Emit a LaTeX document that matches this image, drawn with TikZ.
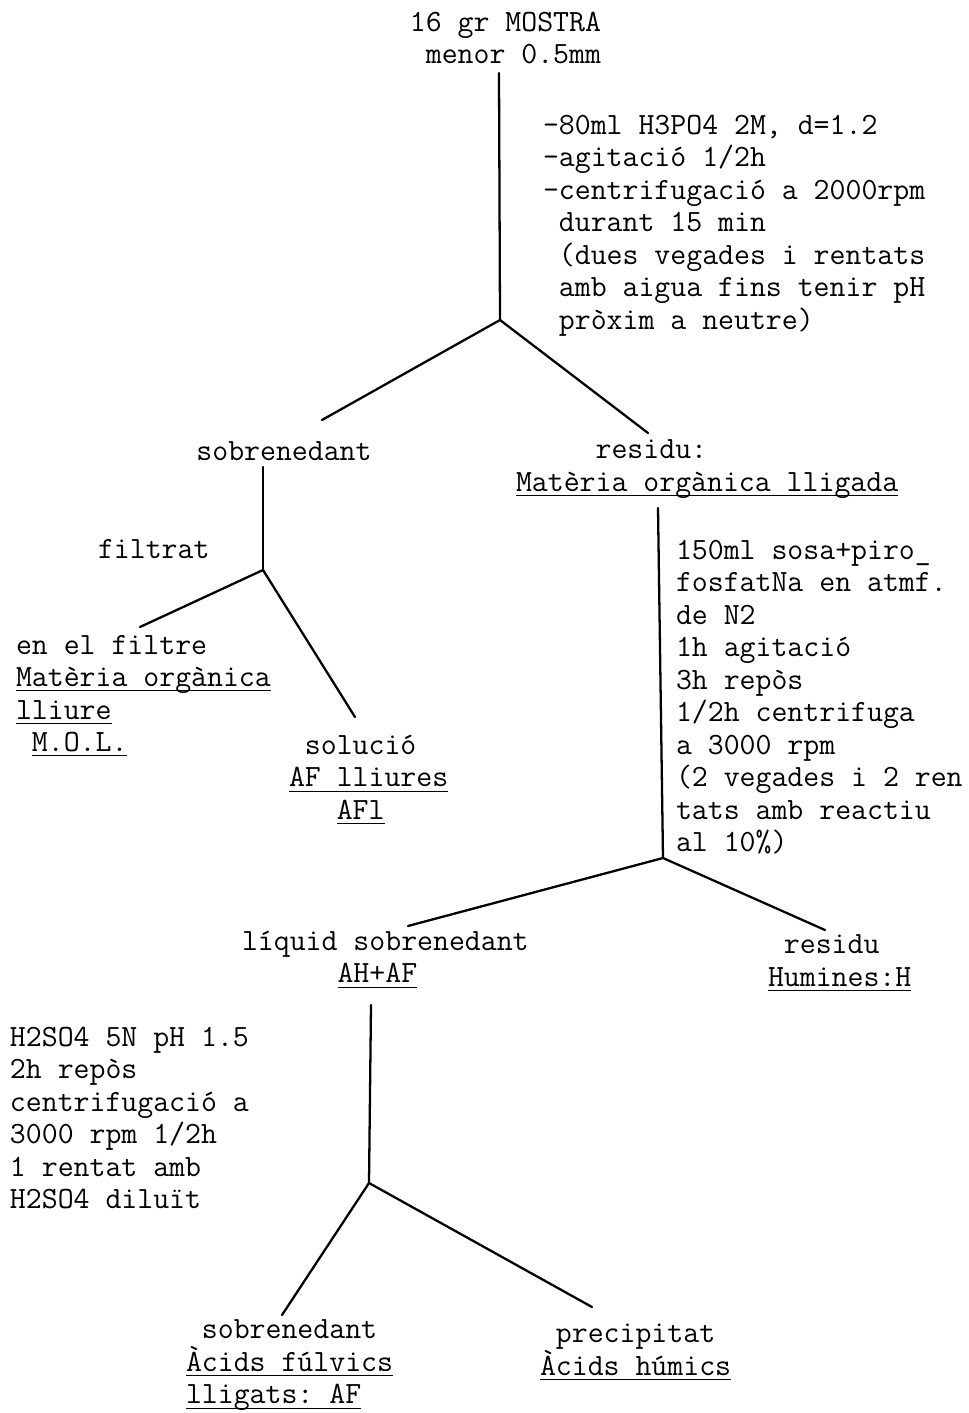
\documentclass[tikz,border=0pt]{standalone}
\newcommand\myul[1]{\underline{\raisebox{0pt}[\height][1pt]{#1}}}
\newcommand\ind[1]{\hphantom{#1}}
\frenchspacing
\tikzset{
  txt/.style={inner sep=0pt, outer sep=0pt, align=left,
    font=\fontsize{17.6}{18.5}\selectfont\ttfamily,
    execute at begin node={\frenchspacing\lineskiplimit=-30pt\relax\strut}},
  ln/.style={line width=1.3pt, line cap=round, line join=round}
}
\begin{document}
\begin{tikzpicture}[x=0.02cm, y=-0.02cm]
\useasboundingbox (0,0) rectangle (969,1413);
% texts
\node[txt, align=right, anchor=north east] (mostra) at (601,12) {16 gr MOSTRA\\menor 0.5mm};
\node[txt, anchor=north west] (proc1) at (543,115) {-80ml H3PO4 2M, d=1.2\\-agitació 1/2h\\-centrifugació a 2000rpm\\\ind{-}durant 15 min\\\ind{-}(dues vegades i rentats\\\ind{-}amb aigua fins tenir pH\\\ind{-}pròxim a neutre)};
\node[txt, anchor=north] (sobre1) at (284,438) {sobrenedant};
\node[txt, anchor=north west] (residu1) at (516,440) {\ind{xxxxx}residu:\\\myul{Matèria orgànica lligada}};
\node[txt, anchor=north west] (filtrat) at (98,536) {filtrat};
\node[txt, anchor=north west] (mol) at (16,635) {en el filtre\\\myul{Matèria orgànica}\\\myul{lliure}\\\ind{x}\myul{M.O.L.}};
\node[txt, anchor=north west] (afl) at (289,735) {\ind{x}solució\\\myul{AF lliures}\\\ind{xxx}\myul{AFl}};
\node[txt, anchor=north west] (proc2) at (676,540) {150ml sosa+piro\_\\fosfatNa en atmf.\\de N2\\1h agitació\\3h repòs\\1/2h centrifuga\\a 3000 rpm\\(2 vegades i 2 ren\\tats amb reactiu\\al 10\%)};
\node[txt, anchor=north west] (liquid) at (242,931) {líquid sobrenedant\\\ind{xxxxxx}\myul{AH+AF}};
\node[txt, anchor=north west] (humines) at (768,935) {\ind{x}residu\\\myul{Humines:H}};
\node[txt, anchor=north west] (proc3) at (10,1027) {H2SO4 5N pH 1.5\\2h repòs\\centrifugació a\\3000 rpm 1/2h\\1 rentat amb\\H2SO4 diluït};
\node[txt, anchor=north west] (af) at (186,1320) {\ind{x}sobrenedant\\\myul{Àcids fúlvics}\\\myul{lligats: AF}};
\node[txt, anchor=north west] (ah) at (540,1324) {\ind{x}precipitat\\\myul{Àcids húmics}};
% junction coordinates
\coordinate (t1) at (499,73);
\coordinate (j1) at (500,320);
\coordinate (e1l) at (322,420);
\coordinate (e1r) at (648,433);
\coordinate (t2) at (263,467);
\coordinate (j2) at (263,570);
\coordinate (e2l) at (140,627);
\coordinate (e2r) at (355,717);
\coordinate (t3) at (658,508);
\coordinate (j3) at (663,858);
\coordinate (e3l) at (408,926);
\coordinate (e3r) at (825,930);
\coordinate (t4) at (371,1005);
\coordinate (j4) at (369,1183);
\coordinate (e4l) at (282,1315);
\coordinate (e4r) at (592,1307);
% connectors
\draw[ln] (t1) -- (j1);
\draw[ln] (e1l) -- (j1) -- (e1r);
\draw[ln] (t2) -- (j2);
\draw[ln] (e2l) -- (j2) -- (e2r);
\draw[ln] (t3) -- (j3);
\draw[ln] (e3l) -- (j3) -- (e3r);
\draw[ln] (t4) -- (j4);
\draw[ln] (e4l) -- (j4) -- (e4r);
\end{tikzpicture}
\end{document}
